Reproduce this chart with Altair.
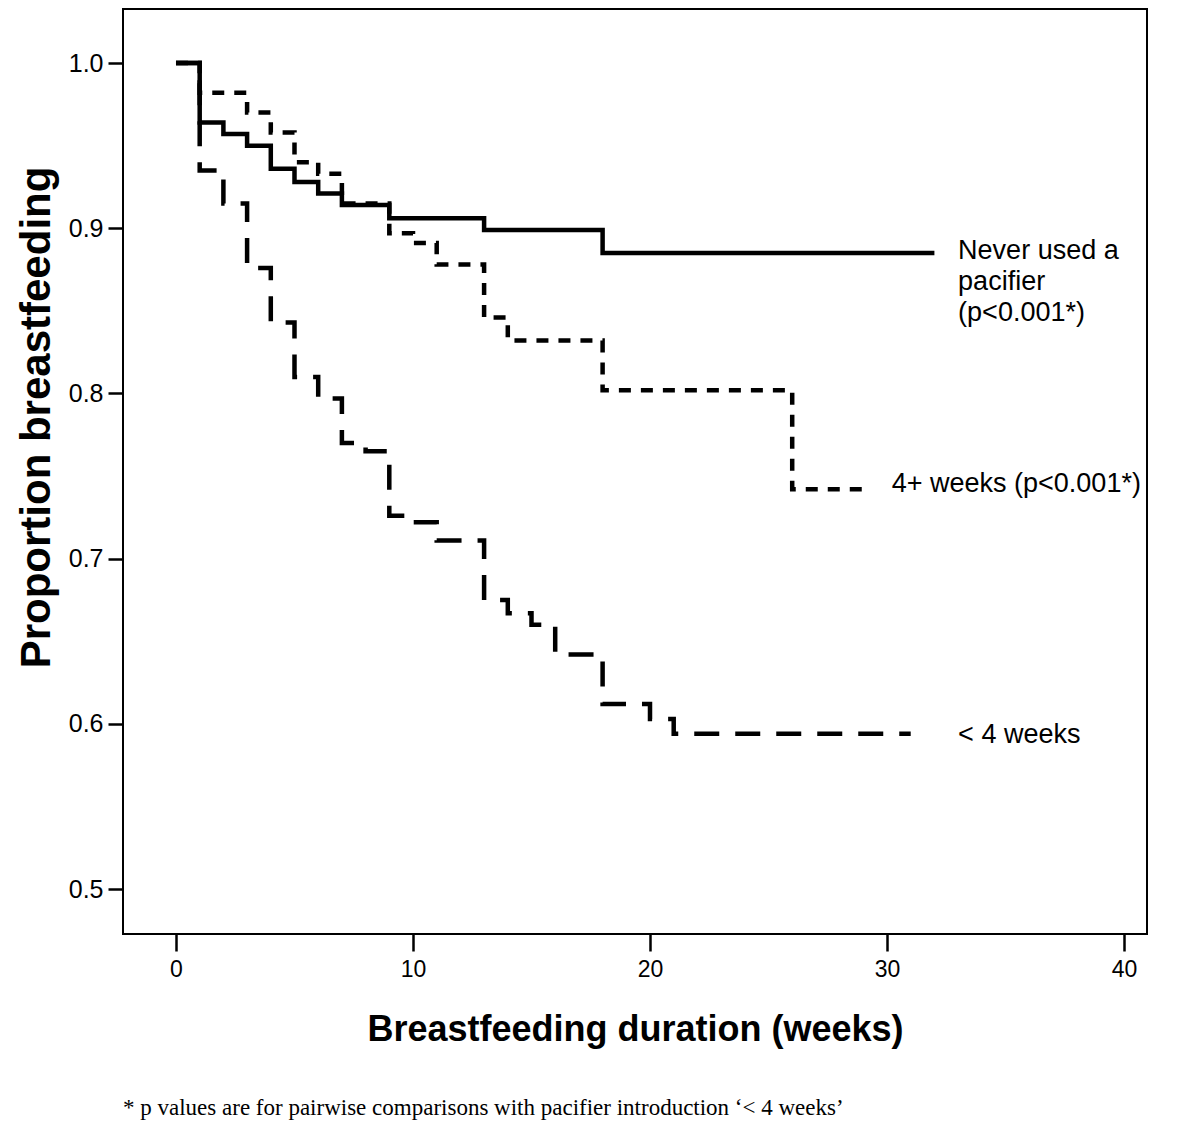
import altair as alt
import pandas as pd

# --- data (Kaplan-Meier step curves) ---
never_t = [0, 1, 2, 3, 4, 5, 6, 7, 9, 13, 18, 32]
never_s = [1.0, 0.964, 0.957, 0.950, 0.936, 0.928, 0.921, 0.914, 0.906, 0.899, 0.885, 0.885]

plus4_t = [0, 1, 3, 4, 5, 6, 7, 9, 10, 11, 13, 14, 18, 26, 29]
plus4_s = [1.0, 0.982, 0.970, 0.958, 0.940, 0.933, 0.915, 0.897, 0.891, 0.878, 0.846, 0.832, 0.802, 0.742, 0.742]

lt4_t = [0, 1, 2, 3, 4, 5, 6, 7, 8, 9, 10, 11, 13, 14, 15, 16, 18, 20, 21, 31]
lt4_s = [1.0, 0.935, 0.915, 0.876, 0.843, 0.810, 0.797, 0.770, 0.765, 0.726, 0.722, 0.711,
         0.675, 0.667, 0.660, 0.642, 0.612, 0.603, 0.594, 0.594]

x_ticks = [0, 10, 20, 30, 40]
y_ticks = [0.5, 0.6, 0.7, 0.8, 0.9, 1.0]

label_text = ["Never used a", "pacifier", "(p<0.001*)", "4+ weeks (p<0.001*)", "< 4 weeks"]
label_x = [33.0, 33.0, 33.0, 30.2, 33.0]
label_y = [0.8862, 0.8674, 0.8487, 0.7452, 0.5932]

footnote = "* p values are for pairwise comparisons with pacifier introduction \u2018< 4 weeks\u2019"

X_DOMAIN = [-2.236, 40.97]
Y_DOMAIN = [0.4728, 1.0327]

never_df = pd.DataFrame({"week": never_t, "prop": never_s})
plus4_df = pd.DataFrame({"week": plus4_t, "prop": plus4_s})
lt4_df = pd.DataFrame({"week": lt4_t, "prop": lt4_s})
labels_df = pd.DataFrame({"text": label_text, "week": label_x, "prop": label_y})

x_enc = alt.X(
    "week:Q",
    scale=alt.Scale(domain=X_DOMAIN, nice=False, zero=False),
    axis=alt.Axis(
        values=x_ticks, title="Breastfeeding duration (weeks)", grid=False, domain=False,
        tickSize=17, tickWidth=2.5, tickColor="black", labelFontSize=23, labelColor="black",
        labelFont="Liberation Sans", labelPadding=7, titleFont="Liberation Sans",
        titleFontSize=36, titleFontWeight="bold", titleColor="black", titlePadding=31,
    ),
)
y_enc = alt.Y(
    "prop:Q",
    scale=alt.Scale(domain=Y_DOMAIN, nice=False, zero=False),
    axis=alt.Axis(
        values=y_ticks, format=".1f", title="Proportion breastfeeding", grid=False, domain=False,
        tickSize=15, tickWidth=2.5, tickColor="black", labelFontSize=25, labelColor="black",
        labelFont="Liberation Sans", labelPadding=5, titleFont="Liberation Sans",
        titleFontSize=42, titleFontWeight="bold", titleColor="black",
        titleAngle=270, titleAlign="center", titleBaseline="middle", titleX=-87, titleY=408,
    ),
)

def step_line(df, dash):
    kw = dict(interpolate="step-after", color="black", strokeWidth=4.5, strokeCap="butt")
    if dash:
        kw["strokeDash"] = dash
    return alt.Chart(df).mark_line(**kw).encode(x=x_enc, y=y_enc)

lt4 = step_line(lt4_df, [25, 16])
plus4 = step_line(plus4_df, [12, 10])
never = step_line(never_df, None)

labels = alt.Chart(labels_df).mark_text(
    align="left", baseline="middle", font="Liberation Sans", fontSize=27, color="black"
).encode(x=x_enc, y=y_enc, text="text:N")

chart = alt.layer(lt4, plus4, never, labels).properties(
    width=1024,
    height=925,
    autosize=alt.AutoSizeParams(type="none"),
    padding={"left": 115, "top": 1, "right": 45, "bottom": 195},
    title=alt.TitleParams(
        text=footnote, orient="bottom", anchor="start", frame="group",
        font="Liberation Serif", fontSize=23, fontWeight="normal", color="black", offset=50,
    ),
).configure(background="white").configure_view(stroke="black", strokeWidth=2)

chart.save("out.html", embed_options={"renderer": "svg", "actions": False})
